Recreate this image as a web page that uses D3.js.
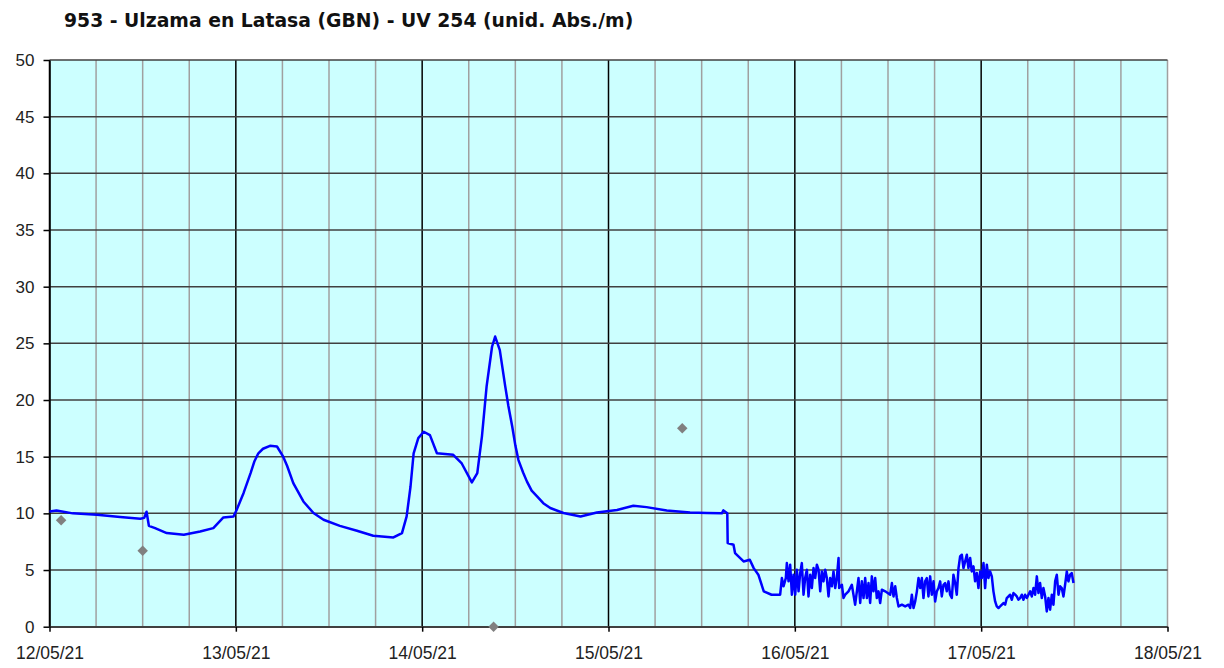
<!DOCTYPE html>
<html>
<head>
<meta charset="utf-8">
<script src="https://cdn.jsdelivr.net/npm/d3@7"></script>
<style>
  body { margin: 0; background: #fff; }
  svg { display: block; font-family: "DejaVu Sans", Verdana, sans-serif; }
</style>
</head>
<body>
<div id="chart"></div>
<script>
var svgWidth = 1224;
var svgHeight = 668;

var chartTitle = "953 - Ulzama en Latasa (GBN) - UV 254 (unid. Abs./m)";

// hours since 12/05/21 00:00
var hours = [0, 0.9, 3, 6.1, 9.1, 11.7, 12.2, 12.5, 12.8, 13.6, 15.1, 17.3, 19.4, 21.1, 22.4, 23.7,
  24.1, 25, 25.9, 26.4, 26.9, 27.5, 28.4, 29.3, 30.1, 30.6, 31.4, 32.7, 34, 35.3, 37.4, 39.6, 41.7, 44.3, 45.4,
  46, 46.5, 46.9, 47.5, 48.2, 49, 49.9, 52, 53.1, 54.4, 55.1, 55.7, 56.3, 57, 57.4, 58,
  58.7, 59.1, 59.6, 60.0, 60.4, 61.0, 61.5, 62.1, 62.8, 63.6, 64.5, 66.2, 68.4, 70.5, 73.1, 75.2, 76.9, 79.5, 82.5, 84.7, 86.6,
  86.8, 87.3, 87.35, 88.1, 88.3, 89.4, 90.2, 90.7, 91.3, 92, 93, 93.47,
  94.11, 94.33, 94.54, 94.84, 94.97, 95.19, 95.40, 95.62, 95.83, 96.05, 96.26, 96.48, 96.69, 96.90, 97.12, 97.33,
  97.55, 97.76, 97.98, 98.19, 98.41, 98.62, 98.84, 99.05, 99.27, 99.48, 99.69, 99.91, 100.12, 100.34, 100.55, 100.77,
  100.98, 101.20, 101.41, 101.63, 101.71, 102.06, 102.27, 102.49, 102.91, 103.34, 103.77, 103.99, 104.20, 104.42, 104.63, 104.85,
  105.06, 105.28, 105.49, 105.70, 105.92, 106.13, 106.35, 106.56, 106.78, 106.99, 107.21, 107.64, 108.28, 108.50, 108.71, 108.93,
  109.14, 109.36, 109.79, 110.21, 110.64, 110.86, 111.07, 111.29, 111.50, 111.72, 111.93, 112.15, 112.36, 112.57, 112.78, 113.00,
  113.21, 113.43, 113.64, 113.86, 114.07, 114.29, 114.50, 114.72, 114.93, 115.15, 115.36, 115.57, 115.79, 116.00, 116.22, 116.43,
  116.65, 116.86, 117.08, 117.29, 117.51, 117.72, 117.94, 118.15, 118.36, 118.58, 118.79, 119.01, 119.22, 119.44, 119.65, 119.87,
  120.08, 120.30, 120.51, 120.73, 120.94, 121.15, 121.37, 121.58, 121.80, 122.01, 122.23, 122.44, 122.87, 123.09, 123.30, 123.73,
  123.95, 124.16, 124.38, 124.59, 124.80, 125.02, 125.23, 125.45, 125.66, 125.88, 126.31, 126.52, 126.74, 126.95, 127.17, 127.38,
  127.59, 127.81, 128.02, 128.24, 128.45, 128.67, 128.88, 129.10, 129.31, 129.53, 129.74, 129.96, 130.17, 130.38, 130.60, 130.81,
  131.03, 131.24, 131.46, 131.67, 131.89];

var uv254 = [10.17, 10.25, 10.0, 9.88, 9.67, 9.52, 9.6, 10.14, 8.9, 8.7, 8.26, 8.11, 8.4, 8.7, 9.64, 9.73,
  10.3, 11.8, 13.55, 14.6, 15.3, 15.7, 15.96, 15.9, 15.0, 14.2, 12.67, 11.05, 10.03, 9.44, 8.9, 8.47, 8.02, 7.88, 8.26,
  9.73, 12.37, 15.3, 16.64, 17.2, 16.9, 15.3, 15.17, 14.4, 12.73, 13.55, 16.8, 21.2, 24.7, 25.6, 24.4,
  21.2, 19.5, 17.66, 16.0, 14.7, 13.6, 12.8, 12.0, 11.5, 10.9, 10.47, 10.03, 9.73, 10.08, 10.3, 10.67, 10.55, 10.26, 10.08, 10.03, 10.0,
  10.26, 10.0, 7.38, 7.23, 6.5, 5.76, 5.9, 5.17, 4.59, 3.11, 2.82, 2.82,
  2.82, 4.29, 3.56, 4.29, 5.61, 4.00, 5.47, 2.82, 4.59, 2.82, 5.03, 3.12, 4.73, 5.61, 2.82, 4.29,
  5.03, 2.67, 4.59, 3.41, 5.17, 4.29, 5.47, 5.03, 3.12, 4.88, 4.00, 5.03, 4.29, 2.67, 4.29, 3.56,
  4.88, 3.41, 4.29, 6.06, 3.41, 3.70, 2.53, 2.82, 3.12, 3.70, 1.94, 3.12, 4.29, 2.09, 4.00, 2.53,
  4.29, 2.53, 3.85, 2.09, 4.44, 3.12, 4.29, 2.53, 3.12, 2.09, 3.26, 3.12, 2.82, 3.85, 2.67, 3.56,
  2.53, 1.79, 1.94, 1.79, 1.94, 1.65, 2.82, 1.65, 2.23, 3.12, 4.29, 3.41, 4.29, 2.53, 4.00, 4.29,
  2.67, 4.44, 2.82, 4.00, 2.23, 3.12, 3.41, 4.00, 2.67, 3.70, 3.85, 3.12, 4.00, 2.82, 2.53, 4.59,
  3.85, 2.82, 5.17, 6.20, 6.35, 5.17, 5.76, 6.35, 5.17, 6.06, 4.88, 5.32, 4.00, 4.73, 3.41, 4.88,
  4.29, 5.61, 3.41, 5.47, 4.29, 4.88, 4.44, 3.12, 2.23, 1.79, 1.65, 1.79, 2.09, 1.94, 2.53, 2.82,
  2.38, 2.97, 2.82, 2.67, 2.38, 2.53, 2.82, 2.38, 2.82, 2.53, 3.12, 2.67, 3.41, 2.82, 4.44, 2.97,
  3.85, 2.53, 3.41, 2.67, 1.35, 2.53, 1.50, 2.82, 1.94, 4.00, 4.59, 2.82, 3.56, 3.41, 2.67, 3.70,
  4.88, 4.00, 4.59, 4.73, 3.85];

// lab samples (grey diamonds)
var sampleHours = [1.5, 12.0, 57.2, 81.5];
var sampleValues = [9.4, 6.7, 0, 17.5];

var yTicks = [0, 5, 10, 15, 20, 25, 30, 35, 40, 45, 50];

var startDate = new Date(2021, 4, 12);
var endDate = new Date(2021, 4, 18);
function toDate(h) { return new Date(startDate.getTime() + h * 3600 * 1000); }

var plot = { left: 49.5, right: 1167.5, top: 60, bottom: 626.7 };

var svg = d3.select("#chart").append("svg")
  .attr("width", svgWidth)
  .attr("height", svgHeight);

var xScale = d3.scaleTime()
  .domain([startDate, endDate])
  .range([plot.left, plot.right]);

var yScale = d3.scaleLinear()
  .domain([0, 50])
  .range([plot.bottom, plot.top]);

// plot background
svg.append("rect")
  .attr("x", plot.left)
  .attr("y", plot.top)
  .attr("width", plot.right - plot.left)
  .attr("height", plot.bottom - plot.top)
  .attr("fill", "#ccffff");

// vertical grid, every 6 hours, black on each day
var sixHours = d3.timeHour.every(6).range(startDate, d3.timeHour.offset(endDate, 1));
svg.append("g").selectAll("line")
  .data(sixHours)
  .enter()
  .append("line")
  .attr("x1", d => xScale(d))
  .attr("x2", d => xScale(d))
  .attr("y1", plot.top)
  .attr("y2", plot.bottom)
  .attr("stroke", d => (d.getHours() === 0 && d < endDate) ? "#000" : "#a0a0a0")
  .attr("stroke-width", 1.5);

// horizontal grid
svg.append("g").selectAll("line")
  .data(yTicks)
  .enter()
  .append("line")
  .attr("x1", plot.left)
  .attr("x2", plot.right)
  .attr("y1", d => yScale(d))
  .attr("y2", d => yScale(d))
  .attr("stroke", "#404040")
  .attr("stroke-width", 1.5);

// axes
var yAxis = svg.append("g")
  .attr("transform", `translate(${plot.left},0)`)
  .call(d3.axisLeft(yScale).tickValues(yTicks).tickSize(6).tickPadding(9).tickSizeOuter(0));
yAxis.select(".domain").attr("stroke", "#000").attr("stroke-width", 1.5);
yAxis.selectAll(".tick line").attr("stroke", "#000").attr("stroke-width", 1.5);
yAxis.selectAll("text")
  .attr("fill", "#222")
  .style("font-size", "17px");

var xAxis = svg.append("g")
  .attr("transform", `translate(0,${plot.bottom})`)
  .call(d3.axisBottom(xScale).ticks(d3.timeDay.every(1)).tickFormat(d3.timeFormat("%d/%m/%y"))
    .tickSize(5).tickPadding(15).tickSizeOuter(0));
xAxis.select(".domain").attr("stroke", "#404040").attr("stroke-width", 1.5);
xAxis.selectAll(".tick line").attr("stroke", "#000").attr("stroke-width", 1.5);
xAxis.selectAll("text")
  .attr("fill", "#222")
  .style("font-size", "17.5px");

// data line
var series = hours.map((h, i) => ({ date: toDate(h), value: uv254[i] }));
var line = d3.line()
  .x(d => xScale(d.date))
  .y(d => yScale(d.value));

svg.append("path")
  .datum(series)
  .attr("d", line)
  .attr("fill", "none")
  .attr("stroke", "#0000ff")
  .attr("stroke-width", 2.5)
  .attr("stroke-linejoin", "round");

// lab samples
svg.append("g").selectAll("path")
  .data(sampleHours)
  .enter()
  .append("path")
  .attr("d", d3.symbol(d3.symbolSquare, 55))
  .attr("transform", (d, i) => `translate(${xScale(toDate(d))},${yScale(sampleValues[i])}) rotate(45)`)
  .attr("fill", "#808080");

// title
svg.append("text")
  .attr("x", 64)
  .attr("y", 27)
  .attr("font-weight", "bold")
  .style("font-size", "18.8px")
  .attr("fill", "#111")
  .text(chartTitle);
</script>
</body>
</html>
